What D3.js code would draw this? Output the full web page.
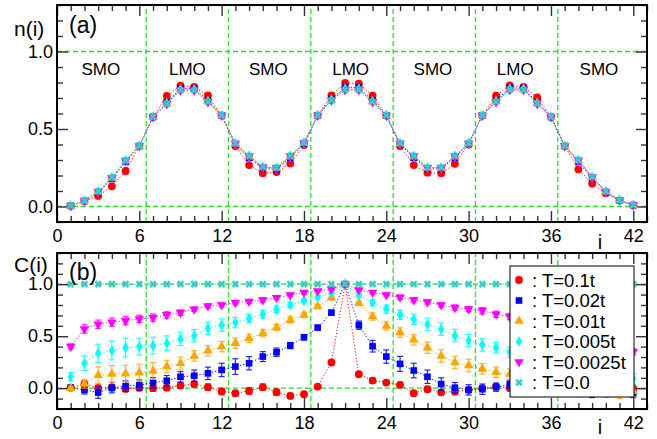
<!DOCTYPE html>
<html>
<head>
<meta charset="utf-8">
<script src="https://cdn.jsdelivr.net/npm/d3@7"></script>
<style>
body { margin: 0; background: #fff; }
svg { display: block; font-family: "Liberation Sans", Arial, Helvetica, sans-serif; }
</style>
</head>
<body>
<div id="chart"></div>
<script>
// site index i
const sites = [1,2,3,4,5,6,7,8,9,10,11,12,13,14,15,16,17,18,19,20,21,
  22,23,24,25,26,27,28,29,30,31,32,33,34,35,36,37,38,39,40,41,42];

// legend labels
const temps = [": T=0.1t", ": T=0.02t", ": T=0.01t", ": T=0.005t", ": T=0.0025t", ": T=0.0"];

// tick values
const xMajor = [0, 6, 12, 18, 24, 30, 36, 42];
const xMinor = [1,2,3,4,5,7,8,9,10,11,13,14,15,16,17,19,20,21,22,23,25,26,27,28,29,31,32,33,34,35,37,38,39,40,41,43];
const yMajor = [0, 0.5, 1.0];
const yMinorTop = [-0.1,0.1,0.2,0.3,0.4,0.6,0.7,0.8,0.9,1.1,1.2,1.3];
const yMinorBot = [-0.2,-0.1,0.1,0.2,0.3,0.4,0.6,0.7,0.8,0.9,1.1,1.2,1.3];

// region boundaries and labels (top panel)
const boundaries = [6.5, 12.5, 18.5, 24.5, 30.5, 36.5];
const regionNames = ["SMO", "LMO", "SMO", "LMO", "SMO", "LMO", "SMO"];
const regionCenters = [3.2, 9.5, 15.4, 21.4, 27.4, 33.4, 39.5];

// (a) density n(i)
const nT01 = [0.005,0.036,0.068,0.13,0.229,0.39,0.578,0.713,0.78,0.771,0.717,0.587,0.39,0.267,0.214,0.222,0.278,0.396,0.587,0.717,0.797,
  0.792,0.715,0.587,0.39,0.267,0.218,0.214,0.276,0.40,0.587,0.715,0.782,0.771,0.704,0.578,0.39,0.24,0.148,0.085,0.04,0.008];
const nT002 = [0.004,0.036,0.09,0.178,0.288,0.39,0.578,0.672,0.762,0.762,0.685,0.587,0.403,0.315,0.245,0.24,0.315,0.407,0.587,0.695,0.767,
  0.767,0.685,0.587,0.403,0.315,0.243,0.243,0.315,0.405,0.587,0.685,0.765,0.764,0.672,0.578,0.39,0.288,0.182,0.092,0.04,0.008];
const nT001 = [0.004,0.036,0.094,0.183,0.293,0.39,0.578,0.665,0.755,0.755,0.678,0.587,0.405,0.322,0.252,0.247,0.322,0.409,0.587,0.688,0.758,
  0.758,0.678,0.587,0.405,0.322,0.248,0.248,0.322,0.406,0.587,0.678,0.757,0.757,0.667,0.578,0.39,0.295,0.187,0.095,0.04,0.008];
const nT0005 = [0.004,0.036,0.096,0.186,0.296,0.39,0.578,0.662,0.75,0.75,0.675,0.587,0.407,0.325,0.255,0.25,0.325,0.411,0.587,0.685,0.754,
  0.754,0.675,0.587,0.407,0.325,0.25,0.25,0.325,0.407,0.587,0.675,0.754,0.754,0.664,0.578,0.39,0.298,0.19,0.096,0.04,0.008];
const nT00025 = [0.004,0.036,0.096,0.186,0.296,0.39,0.578,0.662,0.75,0.75,0.675,0.587,0.407,0.325,0.255,0.25,0.325,0.411,0.587,0.685,0.753,
  0.753,0.675,0.587,0.407,0.325,0.25,0.25,0.325,0.407,0.587,0.675,0.753,0.753,0.664,0.578,0.39,0.298,0.19,0.096,0.04,0.008];
const nT0 = [0.004,0.036,0.097,0.187,0.297,0.39,0.578,0.661,0.749,0.749,0.674,0.587,0.408,0.326,0.256,0.251,0.326,0.412,0.587,0.684,0.752,
  0.752,0.674,0.587,0.408,0.326,0.251,0.251,0.326,0.408,0.587,0.674,0.752,0.752,0.663,0.578,0.39,0.299,0.191,0.097,0.04,0.008];

// (b) correlation C(i) and its error bars
const cT01 = [0.005,0.04,0.0,0.005,-0.007,0.005,0.0,0.005,0.025,0.04,0.01,-0.032,-0.048,-0.026,0.01,-0.039,-0.074,-0.058,0.016,0.247,1.0,
  0.135,0.073,0.054,0.032,-0.048,-0.01,-0.04,-0.032,-0.016,0.0,0.016,0.0,0.0,-0.02,0.01,-0.03,0.0,-0.02,0.01,-0.01,0.0];
const cT002 = [0.005,-0.016,-0.042,0.005,0.02,0.03,0.052,0.072,0.11,0.12,0.143,0.176,0.208,0.24,0.304,0.346,0.41,0.49,0.583,0.727,1.0,
  0.606,0.404,0.304,0.234,0.17,0.11,0.04,0.005,-0.016,-0.01,0.01,0.038,0.03,0.0,-0.02,-0.03,-0.04,-0.05,-0.04,-0.03,-0.05];
const cT001 = [0.0,0.04,0.125,0.137,0.14,0.15,0.166,0.208,0.24,0.31,0.36,0.40,0.433,0.48,0.529,0.583,0.657,0.705,0.785,0.87,1.0,
  0.817,0.689,0.599,0.535,0.465,0.39,0.31,0.247,0.218,0.186,0.154,0.137,0.12,0.08,0.05,0.02,-0.03,-0.02,-0.04,-0.05,-0.03];
const cT0005 = [0.11,0.24,0.336,0.362,0.39,0.40,0.41,0.433,0.474,0.503,0.575,0.606,0.631,0.67,0.711,0.76,0.80,0.84,0.875,0.92,1.0,
  0.894,0.823,0.76,0.705,0.663,0.613,0.567,0.506,0.458,0.416,0.39,0.346,0.33,0.30,0.27,0.22,0.18,0.15,0.12,0.10,0.09];
const cT00025 = [0.40,0.57,0.615,0.635,0.65,0.666,0.679,0.705,0.727,0.76,0.79,0.80,0.823,0.833,0.849,0.87,0.897,0.92,0.935,0.952,1.0,
  0.945,0.92,0.897,0.874,0.849,0.828,0.80,0.775,0.76,0.746,0.711,0.689,0.66,0.62,0.58,0.54,0.50,0.46,0.42,0.38,0.35];
const cT0 = [1,1,1,1,1,1,1,1,1,1,1,1,1,1,1,1,1,1,1,1,1,
  1,1,1,1,1,1,1,1,1,1,1,1,1,1,1,1,1,1,1,1,1];

const eT01 = [0.02,0.03,0.03,0.03,0.025,0.03,0.03,0.025,0.025,0.03,0.03,0.03,0.025,0.03,0.03,0.03,0.025,0.025,0.01,0.015,0,
  0.02,0.025,0.02,0.025,0.025,0.025,0.025,0.03,0.025,0.02,0.02,0.02,0.02,0.02,0.02,0.02,0.02,0.02,0.02,0.02,0.02];
const eT002 = [0.02,0.04,0.055,0.05,0.05,0.05,0.05,0.05,0.05,0.055,0.06,0.064,0.075,0.064,0.048,0.04,0.03,0.025,0.02,0.02,0,
  0.04,0.056,0.064,0.072,0.07,0.064,0.06,0.05,0.05,0.05,0.04,0.04,0.04,0.04,0.04,0.04,0.04,0.04,0.04,0.04,0.04];
const eT001 = [0.02,0.04,0.08,0.08,0.08,0.08,0.08,0.06,0.06,0.05,0.05,0.05,0.05,0.04,0.035,0.03,0.03,0.025,0.02,0.015,0,
  0.02,0.035,0.04,0.045,0.05,0.055,0.06,0.06,0.06,0.05,0.05,0.05,0.05,0.05,0.05,0.05,0.05,0.05,0.05,0.05,0.05];
const eT0005 = [0.04,0.07,0.087,0.09,0.09,0.08,0.08,0.07,0.065,0.06,0.06,0.06,0.05,0.04,0.035,0.03,0.025,0.02,0.02,0.015,0,
  0.02,0.03,0.04,0.045,0.05,0.06,0.06,0.06,0.06,0.06,0.05,0.05,0.05,0.05,0.05,0.05,0.05,0.05,0.05,0.05,0.05];
const eT00025 = [0.025,0.04,0.04,0.04,0.04,0.035,0.035,0.03,0.025,0.02,0.02,0.02,0.02,0.02,0.02,0.015,0.015,0.015,0.01,0.01,0,
  0.01,0.015,0.015,0.02,0.02,0.02,0.02,0.025,0.025,0.03,0.03,0.03,0.03,0.03,0.03,0.03,0.03,0.03,0.03,0.03,0.03];
const eT0 = [0,0,0,0,0,0,0,0,0,0,0,0,0,0,0,0,0,0,0,0,0,
  0,0,0,0,0,0,0,0,0,0,0,0,0,0,0,0,0,0,0,0,0];

const series = [
  { color: "#ff0000", shape: d3.symbolCircle, size: 48, rot: 0, n: nT01, c: cT01, e: eT01 },
  { color: "#0000ff", shape: d3.symbolSquare, size: 44, rot: 0, n: nT002, c: cT002, e: eT002 },
  { color: "#ffa500", shape: d3.symbolTriangle, size: 40, rot: 0, n: nT001, c: cT001, e: eT001 },
  { color: "#00ffff", shape: d3.symbolDiamond, size: 36, rot: 0, n: nT0005, c: cT0005, e: eT0005 },
  { color: "#ff00ff", shape: d3.symbolTriangle, size: 40, rot: 180, n: nT00025, c: cT00025, e: eT00025 },
  { color: "#3cc9c9", shape: d3.symbolCross, size: 34, rot: 45, n: nT0, c: cT0, e: eT0 }
];

const W = 657, H = 439;
const svg = d3.select("#chart").append("svg")
  .attr("width", W)
  .attr("height", H);

const x = d3.scaleLinear().domain([0, 43]).range([57, 647]);
const yTop = d3.scaleLinear().domain([-0.1, 1.3]).range([222, 5]);
const yBot = d3.scaleLinear().domain([-0.2, 1.3]).range([409, 253]);

const green = "#22e022";

function drawPanel(y, yMinor, iOffset) {
  const g = svg.append("g");
  const [y0, y1] = y.range();

  // green dashed guides
  g.selectAll(".vg").data(boundaries).join("line")
    .attr("x1", d => x(d)).attr("x2", d => x(d))
    .attr("y1", y0).attr("y2", y1)
    .attr("stroke", green).attr("stroke-width", 1.3).attr("stroke-dasharray", "5,3");
  g.selectAll(".hg").data([0, 1]).join("line")
    .attr("x1", x.range()[0]).attr("x2", x.range()[1])
    .attr("y1", d => y(d)).attr("y2", d => y(d))
    .attr("stroke", green).attr("stroke-width", 1.3).attr("stroke-dasharray", "5,3");

  // axes, ticks pointing inward
  const axes = svg.append("g").attr("class", "axes");
  axes.append("g").attr("transform", `translate(0,${y0})`)
    .call(d3.axisBottom(x).tickValues(xMajor).tickSize(-11).tickPadding(7));
  axes.append("g").attr("transform", `translate(0,${y0})`)
    .call(d3.axisBottom(x).tickValues(xMinor).tickSize(-6).tickFormat(""));
  axes.append("g").attr("transform", `translate(0,${y1})`)
    .call(d3.axisTop(x).tickValues(xMajor).tickSize(-11).tickFormat(""));
  axes.append("g").attr("transform", `translate(0,${y1})`)
    .call(d3.axisTop(x).tickValues(xMinor).tickSize(-6).tickFormat(""));
  axes.append("g").attr("transform", `translate(${x.range()[0]},0)`)
    .call(d3.axisLeft(y).tickValues(yMajor).tickSize(-11).tickPadding(4).tickFormat(d3.format(".1f")));
  axes.append("g").attr("transform", `translate(${x.range()[0]},0)`)
    .call(d3.axisLeft(y).tickValues(yMinor).tickSize(-6).tickFormat(""));
  axes.append("g").attr("transform", `translate(${x.range()[1]},0)`)
    .call(d3.axisRight(y).tickValues(yMajor).tickSize(-11).tickFormat(""));
  axes.append("g").attr("transform", `translate(${x.range()[1]},0)`)
    .call(d3.axisRight(y).tickValues(yMinor).tickSize(-6).tickFormat(""));
  axes.selectAll(".domain").remove();
  axes.selectAll(".tick line").attr("stroke", "#333").attr("stroke-width", 1.4);
  axes.selectAll(".tick text").attr("font-size", 18).attr("fill", "#000")
    .attr("font-family", "'Liberation Sans', Arial, sans-serif");

  // frame
  svg.append("rect")
    .attr("x", x.range()[0]).attr("y", y1)
    .attr("width", x.range()[1] - x.range()[0]).attr("height", y0 - y1)
    .attr("fill", "none").attr("stroke", "#000").attr("stroke-width", 2);

  svg.append("text")
    .attr("x", 600).attr("y", y0 + iOffset)
    .attr("text-anchor", "middle").attr("font-size", 20)
    .text("i");
}

drawPanel(yTop, yMinorTop, 27);
drawPanel(yBot, yMinorBot, 25);

// region labels
svg.selectAll(".region").data(regionNames).join("text")
  .attr("x", (d, i) => x(regionCenters[i]))
  .attr("y", 75)
  .attr("text-anchor", "middle")
  .attr("font-size", 17)
  .text(d => d);

const sym = s => d3.symbol().type(s.shape).size(s.size)();
const dotted = y => d3.line().x((d, i) => x(sites[i])).y(d => y(d));

// panel (a)
series.forEach(s => {
  svg.append("path").datum(s.n)
    .attr("d", dotted(yTop))
    .attr("fill", "none").attr("stroke", s.color)
    .attr("stroke-width", 1).attr("stroke-dasharray", "1.2,2");
  svg.append("g").selectAll("path").data(s.n).join("path")
    .attr("d", sym(s))
    .attr("transform", (d, i) => `translate(${x(sites[i])},${yTop(d)}) rotate(${s.rot})`)
    .attr("fill", s.color);
});

// panel (b)
series.forEach(s => {
  svg.append("path").datum(s.c)
    .attr("d", dotted(yBot))
    .attr("fill", "none").attr("stroke", s.color)
    .attr("stroke-width", 1).attr("stroke-dasharray", "1.2,2");
  const eb = svg.append("g").attr("stroke", s.color).attr("stroke-width", 1.2).attr("opacity", 0.85);
  s.c.forEach((v, i) => {
    if (!s.e[i]) return;
    const xi = x(sites[i]);
    const lo = yBot(v - s.e[i]), hi = yBot(v + s.e[i]);
    eb.append("line").attr("x1", xi).attr("x2", xi).attr("y1", lo).attr("y2", hi);
    eb.append("line").attr("x1", xi - 3).attr("x2", xi + 3).attr("y1", lo).attr("y2", lo);
    eb.append("line").attr("x1", xi - 3).attr("x2", xi + 3).attr("y1", hi).attr("y2", hi);
  });
  svg.append("g").selectAll("path").data(s.c).join("path")
    .attr("d", sym(s))
    .attr("transform", (d, i) => `translate(${x(sites[i])},${yBot(d)}) rotate(${s.rot})`)
    .attr("fill", s.color);
});

// axis titles and panel tags
svg.append("text").attr("x", 14).attr("y", 36).attr("font-size", 21).text("n(i)");
svg.append("text").attr("x", 69).attr("y", 33).attr("font-size", 23).text("(a)");
svg.append("text").attr("x", 14).attr("y", 272).attr("font-size", 21).text("C(i)");
svg.append("text").attr("x", 69).attr("y", 280).attr("font-size", 23).text("(b)");

// legend
const legend = svg.append("g").attr("transform", "translate(510,266)");
legend.append("rect")
  .attr("width", 124).attr("height", 131)
  .attr("fill", "#fff").attr("stroke", "#000").attr("stroke-width", 1);
series.forEach((s, i) => {
  const yy = 14 + i * 20.5;
  legend.append("path")
    .attr("d", sym(s))
    .attr("transform", `translate(9,${yy}) rotate(${s.rot})`)
    .attr("fill", s.color);
  legend.append("text")
    .attr("x", 22).attr("y", yy + 6.5)
    .attr("font-size", 18.5)
    .text(temps[i]);
});
</script>
</body>
</html>
